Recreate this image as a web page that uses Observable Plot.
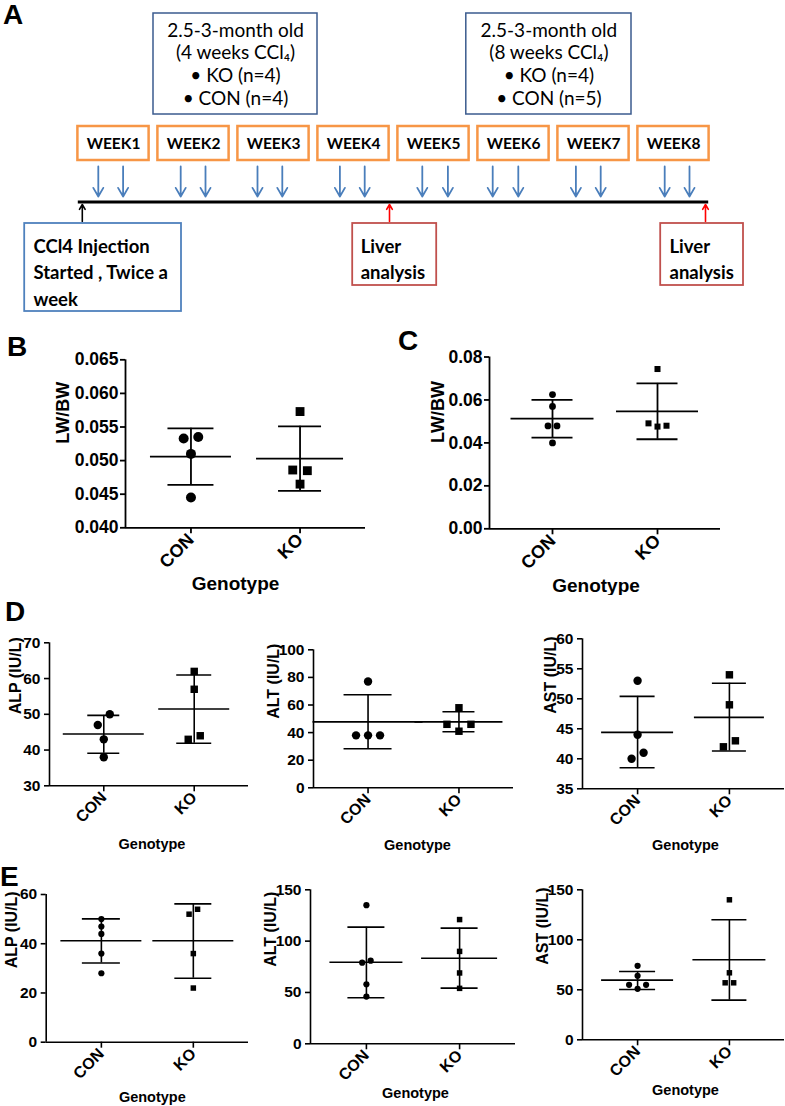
<!DOCTYPE html>
<html><head><meta charset="utf-8">
<script src="https://cdn.jsdelivr.net/npm/d3@7"></script>
<script src="https://cdn.jsdelivr.net/npm/@observablehq/plot@0.6"></script>
<style>
body{margin:0;background:#fff;}
#fig{position:relative;width:785px;height:1106px;overflow:hidden;background:#fff;}
.panel{position:absolute;}
.letter{position:absolute;font:bold 28px "Liberation Sans",Arial,sans-serif;line-height:1;color:#000;}
</style></head><body><div id="fig"></div>
<script>
// ---------- Panel A (study design) ----------
const weeks = [1, 2, 3, 4, 5, 6, 7, 8];
const injections = [0.81, 1.12, 1.84, 2.15, 2.8, 3.11, 3.83, 4.14, 4.86, 5.18, 5.74, 6.06, 6.78, 7.09, 7.89, 8.2];
const cohortText = ["2.5-3-month old\n(4 weeks CCl\u2084)\n\u2022 KO (n=4)\n\u2022 CON (n=4)",
                    "2.5-3-month old\n(8 weeks CCl\u2084)\n\u2022 KO (n=4)\n\u2022 CON (n=5)"];
const cohortSpan = [[1.5, 3.55], [5.41, 7.475]];
const eventAt = [0.61, 4.45, 8.4];
const eventText = ["CCl4 Injection\nStarted , Twice a\nweek", "Liver\nanalysis", "Liver\nanalysis"];

// ---------- Panels B-E ----------
const genotypes = ["CON", "KO"];

const bCON = [0.0533, 0.0535, 0.0510, 0.0445];
const bKO = [0.0573, 0.0486, 0.0485, 0.0465];
const bMean = [0.0506, 0.0503], bUpper = [0.0548, 0.0551], bLower = [0.0464, 0.0455];
const bTicks = [0.040, 0.045, 0.050, 0.055, 0.060, 0.065];

const cCON = [0.0625, 0.0570, 0.0479, 0.0479, 0.0400];
const cKO = [0.0744, 0.0491, 0.0476, 0.0480];
const cMean = [0.0513, 0.0547], cUpper = [0.0600, 0.0677], cLower = [0.0425, 0.0417];
const cTicks = [0.00, 0.02, 0.04, 0.06, 0.08];

const dAlpCON = [47, 50, 43, 38], dAlpKO = [62, 57, 43, 44];
const dAlpMean = [44.5, 51.5], dAlpUpper = [49.7, 61.0], dAlpLower = [39.1, 41.9];
const dAlpTicks = [30, 40, 50, 60, 70];

const dAltCON = [77, 38, 38, 38], dAltKO = [58, 46, 41, 46];
const dAltMean = [47.8, 47.8], dAltUpper = [67.4, 55.1], dAltLower = [28.3, 40.6];
const dAltTicks = [0, 20, 40, 60, 80, 100];

const dAstCON = [53, 44, 40, 41], dAstKO = [54, 49, 42, 43];
const dAstMean = [44.4, 46.9], dAstUpper = [50.4, 52.6], dAstLower = [38.5, 41.3];
const dAstTicks = [35, 40, 45, 50, 55, 60];

const eAlpCON = [50, 47, 44, 36, 28], eAlpKO = [52, 54, 36, 22];
const eAlpMean = [41.2, 41.2], eAlpUpper = [50.1, 56.2], eAlpLower = [32.2, 26.0];
const eAlpTicks = [0, 20, 40, 60];

const eAltCON = [135, 79, 81, 58, 46], eAltKO = [121, 90, 69, 54];
const eAltMean = [79.5, 83.4], eAltUpper = [113.6, 112.7], eAltLower = [44.8, 54.2];
const eAltTicks = [0, 50, 100, 150];

const eAstCON = [74, 64, 55, 51, 55], eAstKO = [140, 67, 57, 57];
const eAstMean = [59.7, 80.0], eAstUpper = [68.3, 120.0], eAstLower = [50.3, 39.7];
const eAstTicks = [0, 50, 100, 150];

const fig = document.getElementById("fig");
function place(node, left, top) {
  const d = document.createElement("div");
  d.className = "panel"; d.style.left = left + "px"; d.style.top = top + "px";
  d.appendChild(node); fig.appendChild(d);
}
function letter(t, left, top) {
  const d = document.createElement("div");
  d.className = "letter"; d.textContent = t;
  d.style.left = left + "px"; d.style.top = top + "px"; fig.appendChild(d);
}

// ---------- draw panel A ----------
const cohorts = cohortText.map((t, i) => ({text: t, start: cohortSpan[i][0], end: cohortSpan[i][1]}));
const eventBoxes = [
  {at: eventAt[0], x1: -0.11, x2: 1.85, tx: 0.0, bottom: 311, box: "#4f81bd", arrow: "#000000", text: eventText[0]},
  {at: eventAt[1], x1: 3.99, x2: 5.04, tx: 4.09, bottom: 285, box: "#c0504d", arrow: "#ff0000", text: eventText[1]},
  {at: eventAt[2], x1: 7.84, x2: 8.875, tx: 7.95, bottom: 285, box: "#c0504d", arrow: "#ff0000", text: eventText[2]}
];
const A = Plot.plot({
  width: 785, height: 320, margin: 0,
  x: {domain: [0, 9], range: [33, 753], axis: null},
  y: {domain: [0, 320], range: [0, 320], axis: null},
  color: {type: "identity"},
  style: {fontFamily: "Lato, 'Open Sans', sans-serif", background: "transparent", color: "black"},
  marks: [
    Plot.rect(cohorts, {x1: "start", x2: "end", y1: 13, y2: 114, stroke: "#3b5b8e", strokeWidth: 1.5, fill: "white"}),
    Plot.text(cohorts, {x: d => (d.start + d.end) / 2, y: 63, text: "text", fontSize: 19, lineHeight: 1.2, fill: "black"}),
    Plot.rect(weeks, {x1: w => w - 0.445, x2: w => w + 0.445, y1: 126, y2: 160, stroke: "#f79646", strokeWidth: 2.5, fill: "white"}),
    Plot.text(weeks, {x: w => w, y: 143.5, text: w => "WEEK" + w, fontSize: 15.5, fontWeight: "bold", fill: "black"}),
    Plot.arrow(injections, {x1: d => d, x2: d => d, y1: 166, y2: 196, stroke: "#4a7ebb", strokeWidth: 1.8, headLength: 10}),
    Plot.ruleY([201.5], {x1: 0.56, x2: 8.44, stroke: "black", strokeWidth: 3}),
    Plot.arrow(eventBoxes, {x1: "at", x2: "at", y1: 221, y2: 204, stroke: "arrow", strokeWidth: 1.6, headLength: 7}),
    Plot.rect(eventBoxes, {x1: "x1", x2: "x2", y1: 223, y2: "bottom", stroke: "box", strokeWidth: 1.8, fill: "white"}),
    Plot.text(eventBoxes, {x: "tx", y: 233, text: "text", textAnchor: "start", lineAnchor: "top", fontSize: 18.5, fontWeight: "bold", lineHeight: 1.45, fill: "black"})
  ]
});
place(A, 0, 0);

// ---------- scatter panels ----------
function jitter(vals, pxY, thresh, spacing) {
  const idx = d3.range(vals.length).sort((a, b) => vals[a] - vals[b]);
  const clusters = []; let cur = [idx[0]];
  for (let k = 1; k < idx.length; k++) {
    if ((vals[idx[k]] - vals[idx[k - 1]]) * pxY < thresh) cur.push(idx[k]);
    else { clusters.push(cur); cur = [idx[k]]; }
  }
  clusters.push(cur);
  const off = new Array(vals.length).fill(0);
  for (const cl of clusters) { cl.sort((a, b) => a - b); cl.forEach((i, k) => off[i] = (k - (cl.length - 1) / 2) * spacing); }
  return off;
}

function scatter(c) {
  const fw = c.width - c.mL - c.mR, fh = c.height - c.mT - c.mB;
  const pxX = fw / 2.2, pxY = fh / (c.yDomain[1] - c.yDomain[0]);
  const pts = [];
  [c.con, c.ko].forEach((vals, g) => {
    const offs = jitter(vals, pxY, c.thresh, c.spacing);
    vals.forEach((v, i) => pts.push({g, v, x: g + offs[i] / pxX}));
  });
  const stats = genotypes.map((n, g) => ({g, mean: c.mean[g], lo: c.lo[g], hi: c.hi[g]}));
  const sw = c.sw;
  const chart = Plot.plot({
    width: c.width, height: c.height,
    marginLeft: c.mL, marginRight: c.mR, marginTop: c.mT, marginBottom: c.mB,
    x: {domain: [-0.6, 1.6], axis: null, label: null},
    y: {domain: c.yDomain, axis: null, label: null},
    style: {fontFamily: "'Liberation Sans', Arial, sans-serif", fontWeight: "bold", fontSize: c.tickFont + "px", background: "transparent", color: "black"},
    marks: [
      Plot.axisY({ticks: c.yTicks, tickFormat: c.fmt, tickSize: 5, tickPadding: c.tickPad, fontSize: c.tickFont, strokeWidth: sw, label: null}),
      Plot.axisX({ticks: [0, 1], tickFormat: i => genotypes[i], tickRotate: -45, tickSize: 6, tickPadding: 3, fontSize: c.catFont, strokeWidth: sw, label: null}),
      Plot.ruleX([-0.6], {strokeWidth: sw}),
      Plot.ruleY([c.yDomain[0]], {strokeWidth: sw}),
      Plot.ruleY(stats, {y: "mean", x1: d => d.g - c.meanW[d.g] / 2 / pxX, x2: d => d.g + c.meanW[d.g] / 2 / pxX, strokeWidth: sw}),
      Plot.ruleY(stats, {y: "hi", x1: d => d.g - c.capW[d.g] / 2 / pxX, x2: d => d.g + c.capW[d.g] / 2 / pxX, strokeWidth: sw}),
      Plot.ruleY(stats, {y: "lo", x1: d => d.g - c.capW[d.g] / 2 / pxX, x2: d => d.g + c.capW[d.g] / 2 / pxX, strokeWidth: sw}),
      Plot.ruleX(stats, {x: "g", y1: "lo", y2: "hi", strokeWidth: sw}),
      Plot.dot(pts.filter(d => d.g === 0), {x: "x", y: "v", r: c.r, symbol: "circle", fill: "black", stroke: "none"}),
      Plot.dot(pts.filter(d => d.g === 1), {x: "x", y: "v", r: c.r, symbol: "square", fill: "black", stroke: "none"}),
      Plot.text([c.yLabel], {text: d => d, frameAnchor: "left", rotate: -90, dx: c.labelDx, fontSize: c.labelFont, fontWeight: "bold", fill: "black"}),
      Plot.text(["Genotype"], {text: d => d, frameAnchor: "bottom", lineAnchor: "middle", dy: c.genoDy, dx: c.genoDx, fontSize: c.genoFont, fontWeight: "bold", fill: "black"})
    ]
  });
  place(chart, c.left, c.top);
}

const big = {tickFont: 17.5, catFont: 18, labelFont: 18, genoFont: 19, tickPad: 2, sw: 1.8};
const small = {tickFont: 15.5, catFont: 16, labelFont: 16, genoFont: 14.5, tickPad: 4, sw: 1.6};

scatter({...big, left: 0, top: 330, width: 390, height: 265, mL: 125, mR: 25, mT: 29.3, mB: 67.7,
  yDomain: [0.040, 0.065], yTicks: bTicks, fmt: d3.format(".3f"), yLabel: "LW/BW",
  con: bCON, ko: bKO, mean: bMean, hi: bUpper, lo: bLower,
  r: 5, spacing: 14.6, thresh: 12, meanW: [81, 87], capW: [46, 43], labelDx: -62, genoDy: 56, genoDx: -10});
scatter({...big, left: 390, top: 330, width: 395, height: 265, mL: 99, mR: 65, mT: 26.5, mB: 66.7,
  yDomain: [0, 0.08], yTicks: cTicks, fmt: d3.format(".2f"), yLabel: "LW/BW",
  con: cCON, ko: cKO, mean: cMean, hi: cUpper, lo: cLower,
  r: 3.4, spacing: 9, thresh: 6, meanW: [83, 82], capW: [41, 41], labelDx: -51, genoDy: 57, genoDx: -9});

scatter({...small, left: 0, top: 615, width: 262, height: 245, mL: 49, mR: 14, mT: 27.3, mB: 74.7,
  yDomain: [30, 70], yTicks: dAlpTicks, fmt: d => d, yLabel: "ALP (IU/L)",
  con: dAlpCON, ko: dAlpKO, mean: dAlpMean, hi: dAlpUpper, lo: dAlpLower,
  r: 4.2, spacing: 12, thresh: 11.5, meanW: [81, 71], capW: [32, 35], labelDx: -34, genoDy: 59, genoDx: 3});
scatter({...small, left: 262, top: 615, width: 262, height: 245, mL: 51, mR: 11, mT: 34.3, mB: 72.7,
  yDomain: [0, 100], yTicks: dAltTicks, fmt: d => d, yLabel: "ALT (IU/L)",
  con: dAltCON, ko: dAltKO, mean: dAltMean, hi: dAltUpper, lo: dAltLower,
  r: 4.2, spacing: 12, thresh: 11.5, meanW: [110, 88], capW: [48, 32], labelDx: -40, genoDy: 58, genoDx: 4});
scatter({...small, left: 524, top: 615, width: 261, height: 245, mL: 58, mR: 1, mT: 23.3, mB: 71.7,
  yDomain: [35, 60], yTicks: dAstTicks, fmt: d => d, yLabel: "AST (IU/L)",
  con: dAstCON, ko: dAstKO, mean: dAstMean, hi: dAstUpper, lo: dAstLower,
  r: 4.2, spacing: 12, thresh: 11.5, meanW: [72, 70], capW: [35, 34], labelDx: -32, genoDy: 57, genoDx: 2});

scatter({...small, left: 0, top: 870, width: 262, height: 236, mL: 45.7, mR: 14, mT: 24, mB: 64.3,
  yDomain: [0, 60], yTicks: eAlpTicks, fmt: d => d, yLabel: "ALP (IU/L)",
  con: eAlpCON, ko: eAlpKO, mean: eAlpMean, hi: eAlpUpper, lo: eAlpLower,
  r: 3.1, spacing: 8.5, thresh: 6, meanW: [81, 81], capW: [38, 37], labelDx: -34, genoDy: 55, genoDx: 5});
scatter({...small, left: 262, top: 870, width: 262, height: 236, mL: 48, mR: 9, mT: 19.3, mB: 62.7,
  yDomain: [0, 150], yTicks: eAltTicks, fmt: d => d, yLabel: "ALT (IU/L)",
  con: eAltCON, ko: eAltKO, mean: eAltMean, hi: eAltUpper, lo: eAltLower,
  r: 3.1, spacing: 8.5, thresh: 6, meanW: [73, 76], capW: [37, 37], labelDx: -40, genoDy: 50, genoDx: 2.5});
scatter({...small, left: 524, top: 870, width: 261, height: 236, mL: 58, mR: 1, mT: 19.3, mB: 66.7,
  yDomain: [0, 150], yTicks: eAstTicks, fmt: d => d, yLabel: "AST (IU/L)",
  con: eAstCON, ko: eAstKO, mean: eAstMean, hi: eAstUpper, lo: eAstLower,
  r: 3.1, spacing: 8.5, thresh: 6, meanW: [72, 73], capW: [36, 35], labelDx: -40, genoDy: 51, genoDx: 2});

letter("A", 3, 1);
letter("B", 7, 333);
letter("C", 398, 327);
letter("D", 5, 598);
letter("E", 0, 863);
</script></body></html>
